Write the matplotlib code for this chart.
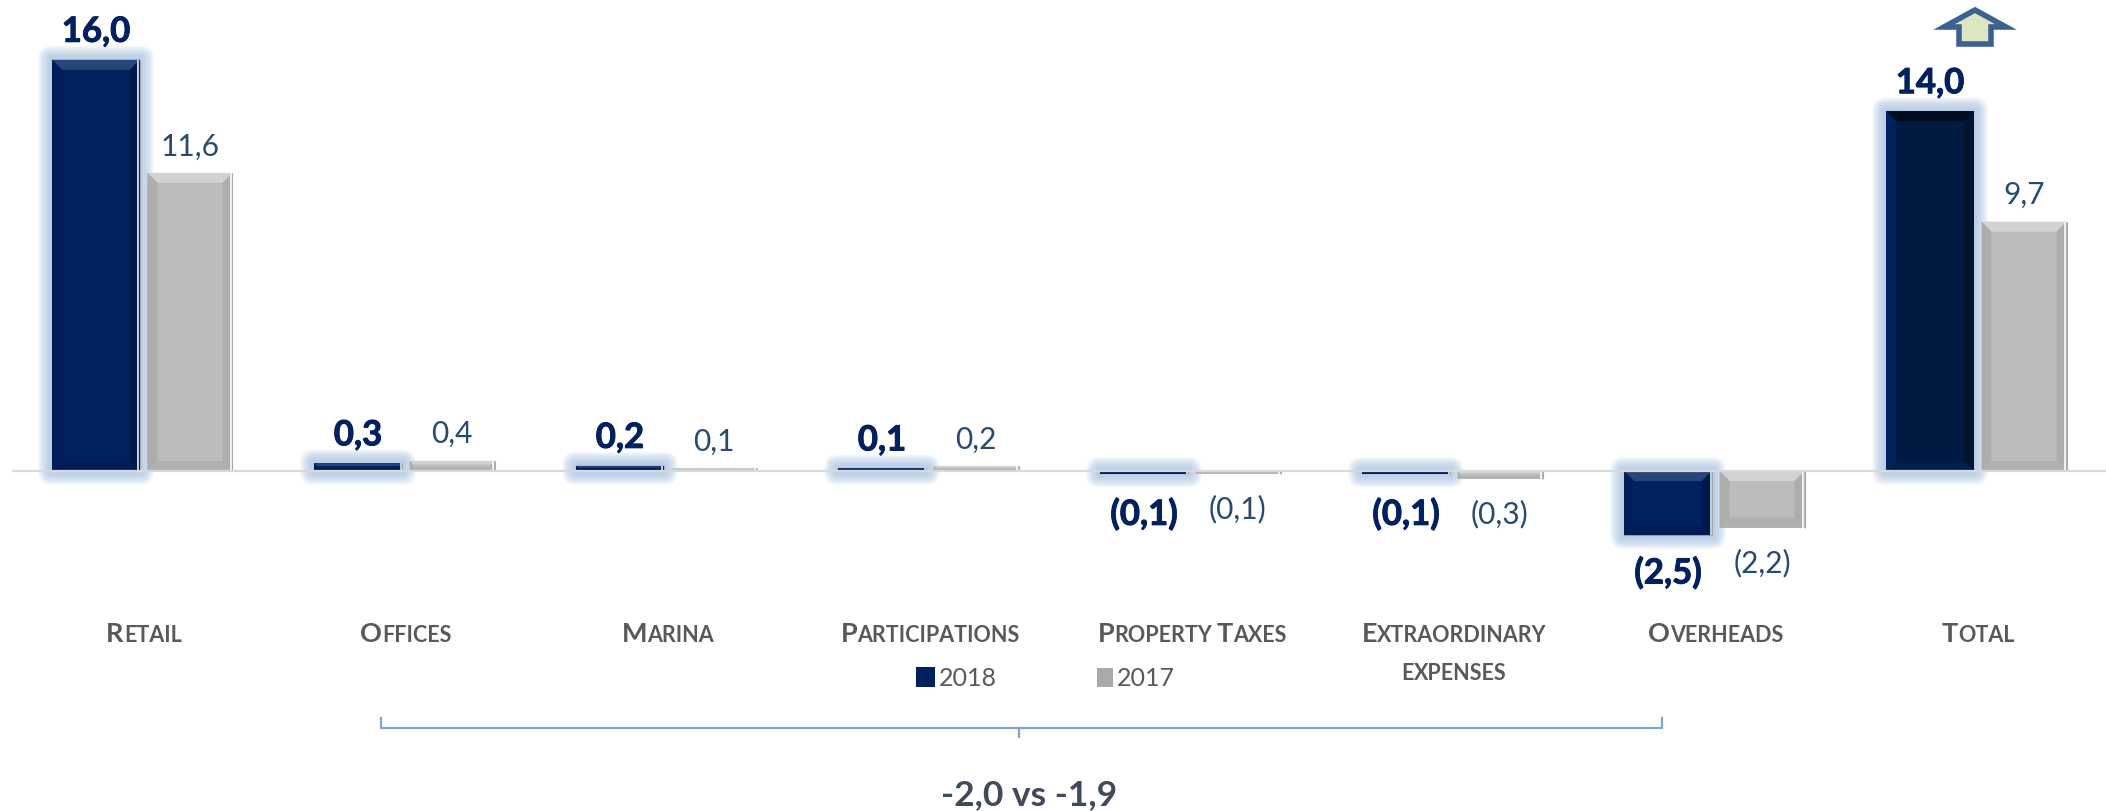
import matplotlib
matplotlib.use("Agg")
import matplotlib.pyplot as plt
import matplotlib.patheffects as pe
from matplotlib.font_manager import FontProperties
from matplotlib.patches import FancyBboxPatch, Polygon, Rectangle
from matplotlib.transforms import IdentityTransform

plt.rcParams["font.family"] = ["Lato", "DejaVu Sans"]

W, H = 2106, 811

categories = ["Retail", "Offices", "Marina", "Participations", "Property Taxes",
              "Extraordinary", "Overheads", "Total"]
values_2018 = [16.0, 0.3, 0.2, 0.1, -0.1, -0.1, -2.5, 14.0]
values_2017 = [11.6, 0.4, 0.1, 0.2, -0.1, -0.3, -2.2, 9.7]
legend_labels = ["2018", "2017"]
bracket_text = "-2,0 vs -1,9"

NAVY = "#002060"
LABEL_GREY = "#595959"
VALUE_BLUE = "#274a70"

# scale: groups 262 px apart, 25.7 px per unit, zero at y=471
PX_X = 262.0
PX_Y = 25.7
X0 = 144.0
Y0 = 471.0

fig = plt.figure(figsize=(W / 100, H / 100), dpi=100)
ax = fig.add_axes([0, 0, 1, 1])
ax.set_xlim(-X0 / PX_X, (W - X0) / PX_X)
ax.set_ylim(-(H - Y0) / PX_Y, Y0 / PX_Y)
ax.axis("off")

heavy = [pe.withStroke(linewidth=0.7, foreground=NAVY)]


def px(x, y):
    # picture pixels to axes fraction, for the annotation shapes
    return x / W, 1 - y / H


def fmt(v):
    s = f"{abs(v):.1f}".replace(".", ",")
    return f"({s})" if v < 0 else s


def add_glow(bar):
    # soft halo, drawn in display pixels so the corners stay round
    (x0, y0), (x1, y1) = ax.transData.transform(
        [(bar.get_x(), min(0, bar.get_height())), (bar.get_x() + bar.get_width(), max(0, bar.get_height()))])
    for grow in range(14, 0, -1):
        ax.add_patch(FancyBboxPatch((x0, y0), x1 - x0, y1 - y0,
                                    boxstyle=f"round,pad={grow},rounding_size={grow}",
                                    transform=IdentityTransform(), fc="#a4c0e2", ec="none",
                                    alpha=0.09, zorder=1))


def add_bevel(bar, top, left, right, bottom, edge=None):
    x0, x1 = bar.get_x(), bar.get_x() + bar.get_width()
    y0 = min(bar.get_y(), bar.get_y() + bar.get_height())
    y1 = max(bar.get_y(), bar.get_y() + bar.get_height())
    size = min(10.0, (y1 - y0) * PX_Y * 0.35)
    dx = size / PX_X
    dy = size / PX_Y
    shapes = [
        ([(x0, y1), (x1, y1), (x1 - dx, y1 - dy), (x0 + dx, y1 - dy)], top),
        ([(x0, y0), (x0, y1), (x0 + dx, y1 - dy), (x0 + dx, y0 + dy)], left),
        ([(x1, y0), (x1, y1), (x1 - dx, y1 - dy), (x1 - dx, y0 + dy)], right),
        ([(x0, y0), (x1, y0), (x1 - dx, y0 + dy), (x0 + dx, y0 + dy)], bottom),
    ]
    for pts, c in shapes:
        ax.add_patch(Polygon(pts, closed=True, fc=c, ec="none", zorder=4))
    if edge:
        # thin light strip with an outline down the right side
        ax.plot([x1 - 1.5 / PX_X] * 2, [y0, y1], color=edge, lw=1.4, zorder=4.5, solid_capstyle="butt")
        ax.plot([x1] * 2, [y0, y1], color="#a8a8a8", lw=0.8, zorder=4.5, solid_capstyle="butt")


renderer = fig.canvas.get_renderer()


def small_caps(cx, cy, text, big, small, weight="bold"):
    # first letters of a word large, the rest in small capitals
    runs = []
    for i, word in enumerate(text.split(" ")):
        if i > 0:
            runs.append((" ", small))
        runs.append((word[0].upper(), big))
        if word[1:]:
            runs.append((word[1:].upper(), small))
    widths = []
    for t, size in runs:
        fp = FontProperties(family="Lato", weight=weight, size=size)
        if t == " ":
            widths.append(size * 0.32)
            continue
        widths.append(renderer.get_text_width_height_descent(t, fp, False)[0])
    x = cx - sum(widths) / 2
    for (t, size), w in zip(runs, widths):
        if t != " ":
            ax.text(*px(x, cy), t, transform=ax.transAxes, fontsize=size, weight=weight,
                    color=LABEL_GREY, ha="left", va="baseline")
        x += w


ax.plot([13 / W, 1], [1 - Y0 / H] * 2, transform=ax.transAxes, color="#d9d9d9", lw=1.6, zorder=5)

pos = list(range(len(categories)))
pos_2018 = [p - 48 / PX_X for p in pos]
pos_2017 = [p + 46 / PX_X for p in pos]

bars_2018 = ax.bar(pos_2018, values_2018, width=88 / PX_X, color=NAVY, zorder=3)
bars_2017 = ax.bar(pos_2017, values_2017, width=85 / PX_X, color="#bcbcbc", zorder=3)

for i, bar in enumerate(bars_2018):
    add_glow(bar)
    if categories[i] == "Total":
        bar.set_facecolor("#001a42")
        add_bevel(bar, "#000c22", "#00235f", "#00142f", "#001f4f")
    else:
        add_bevel(bar, "#28457a", "#001f5a", "#00184c", "#001c52", edge="#c5d3e6")
    v = values_2018[i]
    off = 31 if v > 0 else 38
    if categories[i] == "Overheads":
        off = 35
    ax.annotate(fmt(v), (bar.get_x() + bar.get_width() / 2, v), xytext=(0, off if v > 0 else -off),
                textcoords="offset pixels", ha="center", va="center_baseline",
                fontsize=25, weight="bold", color=NAVY, zorder=6, path_effects=heavy)

for i, bar in enumerate(bars_2017):
    add_bevel(bar, "#d2d2d2", "#adadad", "#adadad", "#b0b0b0", edge="#f2f2f2")
    v = values_2017[i]
    off = 29 if v > 0 else 33
    ax.annotate(fmt(v), (bar.get_x() + bar.get_width() / 2, v), xytext=(0, off if v > 0 else -off),
                textcoords="offset pixels", ha="center", va="center_baseline",
                fontsize=21.5, color=VALUE_BLUE, zorder=6)

for i, name in enumerate(categories):
    small_caps(X0 + PX_X * i, 642, name, 19.5, 15.5)
small_caps(X0 + PX_X * 5 + 0, 680, "expenses", 15.5, 15.5)

# legend
ax.add_patch(Rectangle(px(916, 687), 19 / W, 20 / H, transform=ax.transAxes, fc=NAVY, ec="none", zorder=5))
ax.add_patch(Rectangle(px(1097, 687), 16 / W, 19 / H, transform=ax.transAxes, fc="#a9a9a9", ec="none", zorder=5))
ax.text(*px(939, 678), legend_labels[0], transform=ax.transAxes, fontsize=18, color=LABEL_GREY, va="center")
ax.text(*px(1117, 678), legend_labels[1], transform=ax.transAxes, fontsize=18, color=LABEL_GREY, va="center")

# bracket under the middle groups
ax.plot(*zip(px(381, 718), px(381, 728), px(1662, 728), px(1662, 718)), transform=ax.transAxes,
        color="#7aa7d9", lw=1.6)
ax.plot(*zip(px(1019, 728), px(1019, 737)), transform=ax.transAxes, color="#7aa7d9", lw=1.6)
ax.text(*px(1029, 795), bracket_text, transform=ax.transAxes, fontsize=25.5, weight="bold",
        color="#3f4a5c", ha="center", va="center")

# up arrow above Total
arrow = [px(1975, 10), px(2006, 27), px(1991, 27), px(1991, 44), px(1959, 44), px(1959, 27), px(1944, 27)]
ax.add_patch(Polygon(arrow, closed=True, transform=ax.transAxes, fc="#dde6c0", ec="#3c6090", lw=4, zorder=5))

fig.savefig("out.png", dpi=100)
